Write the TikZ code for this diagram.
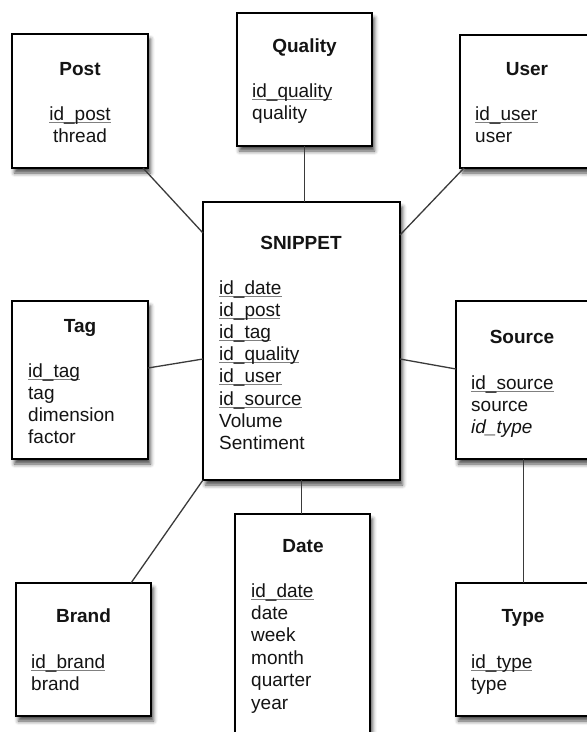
\documentclass[tikz,border=0pt]{standalone}
\usepackage{fontspec}
\setmainfont{Liberation Sans}
\usetikzlibrary{shadows.blur,calc}
\definecolor{ink}{HTML}{141414}
\definecolor{linkgray}{HTML}{3a3a3a}
% key attribute: text with a grey rule under it
\newcommand\keyfield[1]{{\setbox0\hbox{#1}\rlap{\color{gray}\rule[-2.6pt]{\wd0}{1.1pt}}\box0}}
\begin{document}
\begin{tikzpicture}[x=1pt,y=-1pt,
  font=\fontsize{19}{22}\selectfont,
  table/.style={draw=black, line width=1.4pt, fill=white, anchor=north west,
    inner sep=0pt, outer sep=0pt,
    blur shadow={shadow xshift=2.5pt, shadow yshift=-5pt, shadow blur radius=4pt, shadow opacity=70}},
  title/.style={font=\fontsize{19}{22}\selectfont\bfseries, text=ink, anchor=base, inner sep=0pt},
  field/.style={text=ink, anchor=base west, inner sep=0pt},
  cfield/.style={text=ink, anchor=base, inner sep=0pt},
  link/.style={draw=linkgray, line width=1.3pt}]

\useasboundingbox (0,0) rectangle (587,732);
\clip (0,0) rectangle (587,732);

% tables
\node[table, minimum width=136pt, minimum height=134pt] (post)    at (12,34)   {};
\node[table, minimum width=135pt, minimum height=133pt] (quality) at (237,13)  {};
\node[table, minimum width=135pt, minimum height=133pt] (user)    at (460,35)  {};
\node[table, minimum width=197pt, minimum height=278pt] (snippet) at (203,202) {};
\node[table, minimum width=136pt, minimum height=158pt] (tag)     at (12,301)  {};
\node[table, minimum width=135pt, minimum height=158pt] (source)  at (456,301) {};
\node[table, minimum width=135pt, minimum height=133pt] (brand)   at (16,583)  {};
\node[table, minimum width=135pt, minimum height=246pt] (date)    at (235,514) {};
\node[table, minimum width=135pt, minimum height=133pt] (type)    at (456,583) {};

% titles
\node[title] (post-t)    at (80,75)    {Post};
\node[title] (quality-t) at (304.5,52) {Quality};
\node[title] (user-t)    at (527,75)   {User};
\node[title] (snippet-t) at (301,249)  {SNIPPET};
\node[title] (tag-t)     at (80,332)   {Tag};
\node[title] (source-t)  at (522,343)  {Source};
\node[title] (brand-t)   at (83.5,622) {Brand};
\node[title] (date-t)    at (303,552)  {Date};
\node[title] (type-t)    at (523,622)  {Type};

% attributes
\foreach \t [count=\i] in {\keyfield{id\_post}, thread}
  \node[cfield] (post-\i) at (80,{120+22*(\i-1)}) {\t};
\foreach \t [count=\i] in {\keyfield{id\_quality}, quality}
  \node[field] (quality-\i) at (252,{97+22*(\i-1)}) {\t};
\foreach \t [count=\i] in {\keyfield{id\_user}, user}
  \node[field] (user-\i) at (475,{120+22*(\i-1)}) {\t};
\foreach \t [count=\i] in {\keyfield{id\_date}, \keyfield{id\_post}, \keyfield{id\_tag},
    \keyfield{id\_quality}, \keyfield{id\_user}, \keyfield{id\_source}, Volume, Sentiment}
  \node[field] (snippet-\i) at (219,{294+22.2*(\i-1)}) {\t};
\foreach \t [count=\i] in {\keyfield{id\_tag}, tag, dimension, factor}
  \node[field] (tag-\i) at (28,{377+22.3*(\i-1)}) {\t};
\foreach \t [count=\i] in {\keyfield{id\_source}, source, \textit{id\_type}}
  \node[field] (source-\i) at (471,{389+22*(\i-1)}) {\t};
\foreach \t [count=\i] in {\keyfield{id\_brand}, brand}
  \node[field] (brand-\i) at (31,{668+22*(\i-1)}) {\t};
\foreach \t [count=\i] in {\keyfield{id\_date}, date, week, month, quarter, year}
  \node[field] (date-\i) at (251,{597+22.4*(\i-1)}) {\t};
\foreach \t [count=\i] in {\keyfield{id\_type}, type}
  \node[field] (type-\i) at (471,{668+22*(\i-1)}) {\t};

% relationships
\draw[link] ($(post.south east)+(-5,0)$) -- ($(snippet.north west)+(0,31)$);
\draw[link] (quality.south) -- (quality.south |- snippet.north);
\draw[link] ($(user.south west)+(4,0)$) -- ($(snippet.north east)+(0,33)$);
\draw[link] ($(tag.north east)+(0,67)$) -- ($(snippet.north west)+(0,157)$);
\draw[link] ($(snippet.north east)+(0,157)$) -- ($(source.north west)+(0,68)$);
\draw[link] (snippet.south west) -- ($(brand.north west)+(115,0)$);
\draw[link] (snippet.south) -- (snippet.south |- date.north);
\draw[link] (source.south) -- (source.south |- type.north);
\end{tikzpicture}
\end{document}
